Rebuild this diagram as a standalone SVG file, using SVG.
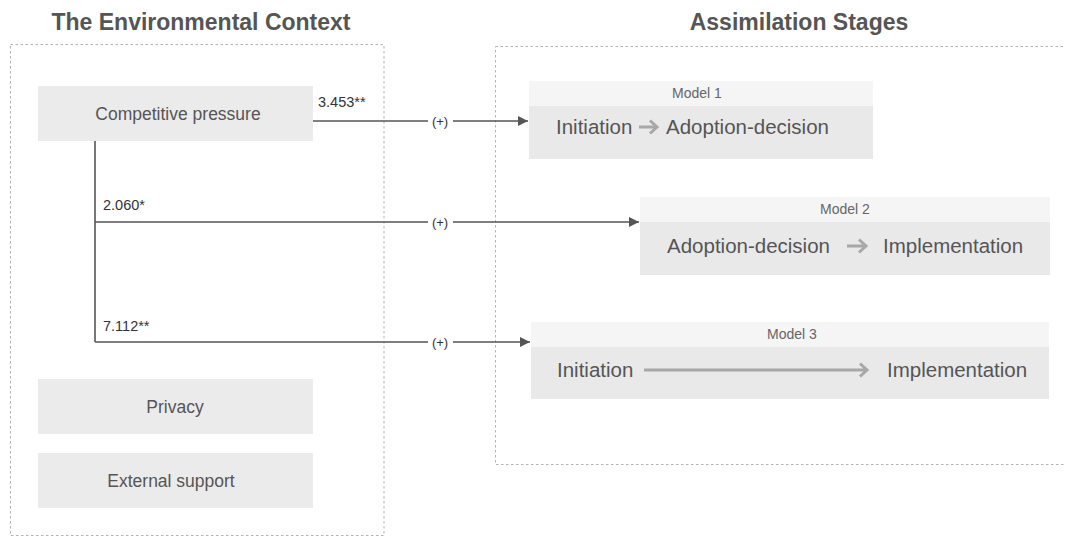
<svg xmlns="http://www.w3.org/2000/svg" width="1065" height="538" viewBox="0 0 1065 538">
  <defs>
    <style>
      .frame { fill: none; stroke: #b3b3b3; stroke-width: 1; stroke-dasharray: 2.5 2.5; }
      .title { font-family: "Liberation Sans", Arial, sans-serif; font-weight: bold; font-size: 23px; fill: #555; text-anchor: middle; }
      .factor { fill: #ebebeb; }
      .factor-text { font-family: "Liberation Sans", Arial, sans-serif; font-size: 17.5px; fill: #555; text-anchor: middle; }
      .model-head { fill: #f5f5f5; }
      .model-body { fill: #e9e9e9; }
      .model-label { font-family: "Liberation Sans", Arial, sans-serif; font-size: 14px; fill: #666; text-anchor: middle; }
      .stage { font-family: "Liberation Sans", Arial, sans-serif; font-size: 20.5px; fill: #555; }
      .stage-arrow { fill: none; stroke: #a8a8a8; stroke-width: 3; stroke-linecap: butt; stroke-linejoin: miter; }
      .link { fill: none; stroke: #555; stroke-width: 1.6; }
      .coef { font-family: "Liberation Sans", Arial, sans-serif; font-size: 14.5px; fill: #333; }
      .sign { font-family: "Liberation Sans", Arial, sans-serif; font-size: 13px; fill: #333; text-anchor: middle; }
    </style>
    <marker id="arrowhead" viewBox="0 0 10 10" refX="10" refY="5" markerWidth="10" markerHeight="10" markerUnits="userSpaceOnUse" orient="auto">
      <path d="M0,0 L10,5 L0,10 z" fill="#555"/>
    </marker>
  </defs>

  <rect width="1065" height="538" fill="#ffffff"/>

  <!-- section headings -->
  <text class="title" x="201" y="30">The Environmental Context</text>
  <text class="title" x="799" y="30">Assimilation Stages</text>

  <!-- dotted section frames -->
  <rect class="frame" x="10.5" y="44.5" width="373.5" height="491"/>
  <rect class="frame" x="495.5" y="46.5" width="600" height="418"/>

  <!-- environmental factors -->
  <g id="competitive-pressure">
    <rect class="factor" x="38" y="86" width="275" height="55"/>
    <text class="factor-text" x="178" y="120">Competitive pressure</text>
  </g>
  <g id="privacy">
    <rect class="factor" x="38" y="379" width="275" height="55"/>
    <text class="factor-text" x="175" y="413">Privacy</text>
  </g>
  <g id="external-support">
    <rect class="factor" x="38" y="453" width="275" height="55"/>
    <text class="factor-text" x="171" y="487">External support</text>
  </g>

  <!-- assimilation models -->
  <g id="model-1">
    <rect class="model-head" x="529" y="81" width="344" height="25"/>
    <rect class="model-body" x="529" y="106" width="344" height="53"/>
    <text class="model-label" x="697" y="98">Model 1</text>
    <text class="stage" x="556" y="134">Initiation</text>
    <path class="stage-arrow" d="M639,127 H657 M650,120.5 L657,127 L650,133.5"/>
    <text class="stage" x="666" y="134">Adoption-decision</text>
  </g>
  <g id="model-2">
    <rect class="model-head" x="640" y="197" width="410" height="25"/>
    <rect class="model-body" x="640" y="222" width="410" height="53"/>
    <text class="model-label" x="845" y="214">Model 2</text>
    <text class="stage" x="667" y="253">Adoption-decision</text>
    <path class="stage-arrow" d="M847,246 H866 M859,239.5 L866,246 L859,252.5"/>
    <text class="stage" x="883" y="253">Implementation</text>
  </g>
  <g id="model-3">
    <rect class="model-head" x="531" y="322" width="518" height="25"/>
    <rect class="model-body" x="531" y="347" width="518" height="52"/>
    <text class="model-label" x="792" y="339">Model 3</text>
    <text class="stage" x="557" y="377">Initiation</text>
    <path class="stage-arrow" d="M644,370 H867 M860,363.5 L867,370 L860,376.5"/>
    <text class="stage" x="887" y="377">Implementation</text>
  </g>

  <!-- connectors -->
  <g id="connectors">
    <path class="link" d="M313,121 H428 M453,121 H528" marker-end="url(#arrowhead)"/>
    <path class="link" d="M95,141 V342"/>
    <path class="link" d="M95,222 H428 M453,222 H639" marker-end="url(#arrowhead)"/>
    <path class="link" d="M95,342 H428 M453,342 H530" marker-end="url(#arrowhead)"/>
    <text class="coef" x="318" y="107">3.453**</text>
    <text class="coef" x="103" y="210">2.060*</text>
    <text class="coef" x="103" y="331">7.112**</text>
    <text class="sign" x="440" y="125.5">(+)</text>
    <text class="sign" x="440" y="226.5">(+)</text>
    <text class="sign" x="440" y="346.5">(+)</text>
  </g>
</svg>
